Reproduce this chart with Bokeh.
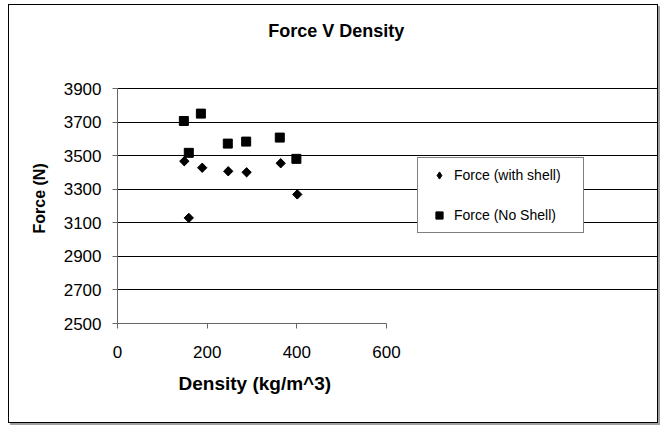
import math
from bokeh.plotting import figure
from bokeh.models import Range1d, FixedTicker, Legend, LegendItem, Label, Title
from bokeh.embed import file_html
from bokeh.resources import INLINE

# Data
density_with_shell = [149, 159, 189, 247, 288, 364, 401]
force_with_shell = [3468, 3130, 3429, 3408, 3402, 3456, 3270]
density_no_shell = [148, 159, 186, 246, 287, 362, 399]
force_no_shell = [3708, 3518, 3752, 3573, 3585, 3609, 3482]

x_ticks = [0, 200, 400, 600]
y_ticks = [2500, 2700, 2900, 3100, 3300, 3500, 3700, 3900]

FONT = "Liberation Sans"

# ---- layout geometry (pixels, canvas coordinates) ----
W, H = 650, 419
LEFT, BOTTOM = 108, 101           # frame left / bottom borders
AXIS_W = 269.0                    # pixel length of x span 0..600
AXIS_H = 234.7                    # pixel length of y span 2500..3900
frame_w = W - LEFT
frame_h = H - BOTTOM
x_max = x_ticks[0] + (x_ticks[-1] - x_ticks[0]) * frame_w / AXIS_W
y_max = y_ticks[0] + (y_ticks[-1] - y_ticks[0]) * frame_h / AXIS_H

p = figure(width=W, height=H, output_backend="svg", toolbar_location=None,
           title=None,
           x_range=Range1d(x_ticks[0], x_max), y_range=Range1d(y_ticks[0], y_max),
           min_border_left=LEFT, min_border_right=0,
           min_border_top=0, min_border_bottom=BOTTOM,
           styles={"margin-left": "8px", "margin-top": "4px",
                   "border": "1px solid black",
                   "box-shadow": "2px 2px 0px #a0a0a0"})

p.background_fill_color = "white"
p.border_fill_color = "white"
p.outline_line_color = None

# Axes
p.xaxis.ticker = FixedTicker(ticks=x_ticks)
p.yaxis.ticker = FixedTicker(ticks=y_ticks)
p.xaxis.bounds = (x_ticks[0], x_ticks[-1])
p.yaxis.bounds = (y_ticks[0], y_ticks[-1])
for ax in (p.xaxis[0], p.yaxis[0]):
    ax.axis_line_color = "#666666"
    ax.major_tick_line_color = "#666666"
    ax.major_tick_out = 5
    ax.major_tick_in = 0
    ax.minor_tick_line_color = None
    ax.major_label_text_font = FONT
    ax.major_label_text_font_size = "17px"
    ax.major_label_text_color = "black"
p.xaxis.major_label_standoff = 17
p.yaxis.major_label_standoff = 11

# Grid
p.xgrid.grid_line_color = None
p.ygrid.grid_line_color = "black"
p.ygrid.grid_line_width = 1
p.ygrid.bounds = (x_ticks[0], x_ticks[-1])

# Axis titles
xlab = Title(text="Density (kg/m^3)", align="left", offset=61,
             vertical_align="top", standoff=24,
             text_font=FONT, text_font_size="19px", text_font_style="bold",
             text_color="black")
p.add_layout(xlab, "below")
ylab = Title(text="Force (N)", align="left", offset=90, standoff=26,
             text_font=FONT, text_font_size="16px", text_font_style="bold",
             text_color="black")
p.add_layout(ylab, "left")

# Chart title
title = Label(x=218.7, y=293, x_units="screen", y_units="screen",
              text="Force V Density", text_align="center",
              text_baseline="alphabetic", text_font=FONT,
              text_font_size="18px", text_font_style="bold", text_color="black")
p.add_layout(title)

r1 = p.scatter(density_with_shell, force_with_shell, marker="square", size=6.6,
               angle=math.pi / 4, fill_color="black", line_color="black")
# diamond glyph on the same points (hidden inside the rotated squares), used for the legend
r1_leg = p.scatter(density_with_shell, force_with_shell, marker="diamond", size=8,
                   fill_color="black", line_color="black")
r2 = p.scatter(density_no_shell, force_no_shell, marker="square", size=9,
               fill_color="black", line_color="black")

legend = Legend(items=[LegendItem(label="Force (with shell)", renderers=[r1_leg]),
                       LegendItem(label="Force (No Shell)", renderers=[r2])],
                location=(300, 90), orientation="vertical")
legend.border_line_color = "black"
legend.border_line_width = 1
legend.background_fill_color = "white"
legend.background_fill_alpha = 1
legend.label_text_font = FONT
legend.label_text_font_size = "14px"
legend.label_text_color = "black"
legend.padding = 8
legend.margin = 0
legend.spacing = 22
legend.glyph_height = 18
legend.label_height = 18
legend.glyph_width = 26
legend.label_standoff = 2
legend.label_width = 121
p.add_layout(legend, "center")

open("out.html", "w").write(file_html(p, INLINE))
